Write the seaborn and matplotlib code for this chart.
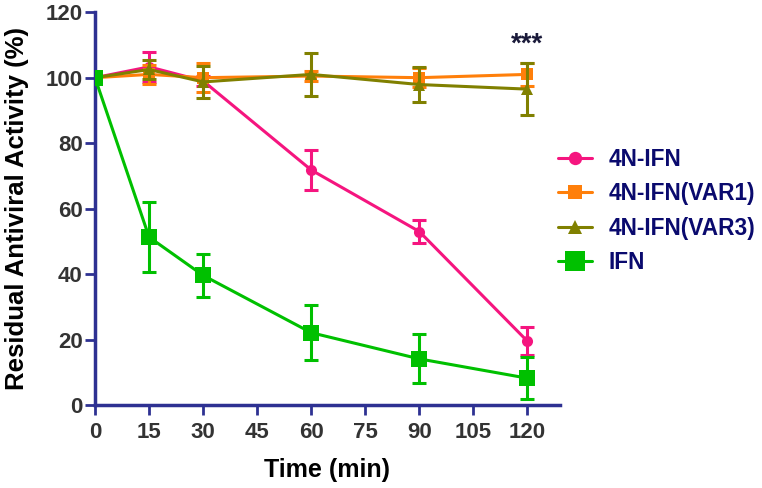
import matplotlib
matplotlib.use("Agg")
import matplotlib.pyplot as plt
import seaborn as sns
import pandas as pd
import numpy as np

time_min = [0, 15, 30, 60, 90, 120]
series_names = ["4N-IFN", "4N-IFN(VAR1)", "4N-IFN(VAR3)", "IFN"]
ifn4n_mean = [100, 103.3, 99.0, 71.8, 53.0, 19.5]
ifn4n_err = [0, 4.5, 1.5, 6.1, 3.4, 4.2]
var1_mean = [100, 101.0, 100.0, 100.5, 100.0, 101.0]
var1_err = [0, 3.0, 4.5, 1.5, 3.0, 3.5]
var3_mean = [100, 102.5, 98.7, 101.0, 97.9, 96.5]
var3_err = [0, 3.0, 5.0, 6.5, 5.3, 8.0]
ifn_mean = [100, 51.3, 39.6, 22.1, 14.1, 8.2]
ifn_err = [0, 10.7, 6.5, 8.4, 7.5, 6.4]
x_ticks = [0, 15, 30, 45, 60, 75, 90, 105, 120]
y_ticks = [0, 20, 40, 60, 80, 100, 120]

means = [ifn4n_mean, var1_mean, var3_mean, ifn_mean]
errs = [ifn4n_err, var1_err, var3_err, ifn_err]
colors = ["#F5157F", "#FF7F0A", "#808000", "#00C000"]
markers = ["o", "s", "^", "s"]
msizes = [8, 8, 8, 12]

rows = []
for name, m, e in zip(series_names, means, errs):
    for t, v, s in zip(time_min, m, e):
        rows.append({"Time": t, "Activity": v, "err": s, "Series": name})
df = pd.DataFrame(rows)

sns.set_theme(style="white")
plt.rcParams["font.family"] = ["Liberation Sans", "DejaVu Sans"]
plt.rcParams["font.weight"] = "bold"

fig = plt.figure(figsize=(7.62, 4.88), dpi=100)
ax = fig.add_axes([0.1247, 0.170, 0.610, 0.805])

navy = "#2E3192"
for i, name in enumerate(series_names):
    sub = df[df["Series"] == name]
    ax.errorbar(sub["Time"], sub["Activity"], yerr=sub["err"], fmt="none",
                ecolor=colors[i], elinewidth=2.2, capsize=5, capthick=2.2,
                zorder=2 + i)
    sns.lineplot(data=sub, x="Time", y="Activity", ax=ax, color=colors[i],
                 marker=markers[i], markersize=msizes[i], markeredgewidth=0,
                 linewidth=2.2, label=name, zorder=3 + i, errorbar=None)

ax.text(120, 106, "***", ha="center", va="bottom", fontsize=20,
        fontweight="bold", color="#1A1A3A")

ax.set_xlim(0, 129)
ax.set_ylim(0, 120)
ax.set_xticks(x_ticks)
ax.set_yticks(y_ticks)
ax.tick_params(axis="both", direction="out", length=7, width=2, color=navy,
               labelsize=16, labelcolor="#333333", bottom=True, left=True, pad=2)
ax.tick_params(axis="x", pad=5)
for lab in ax.get_xticklabels() + ax.get_yticklabels():
    lab.set_fontweight("bold")
for side in ["top", "right"]:
    ax.spines[side].set_visible(False)
for side in ["left", "bottom"]:
    ax.spines[side].set_color(navy)
    ax.spines[side].set_linewidth(2.5)

ax.set_xlabel("Time (min)", fontsize=18, fontweight="bold", color="black", labelpad=11)
ax.set_ylabel("Residual Antiviral Activity (%)", fontsize=18.5, fontweight="bold",
              color="black", labelpad=12)

leg = ax.legend(loc="center left", bbox_to_anchor=(0.996, 0.494), frameon=False,
                fontsize=16.3, handlelength=1.5, labelspacing=0.5,
                handletextpad=0.75, borderaxespad=0, borderpad=0, markerscale=1.2)
for t in leg.get_texts():
    t.set_color("#0A0A6E")
    t.set_fontweight("bold")

fig.savefig("out.png", dpi=100)
